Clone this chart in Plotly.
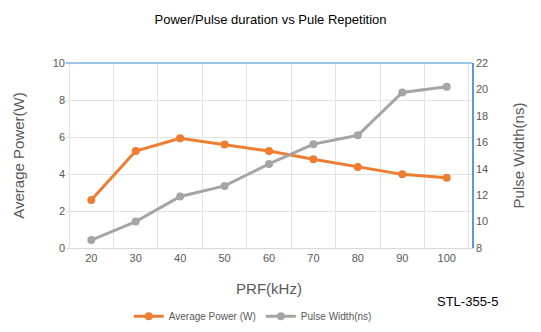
import plotly.graph_objects as go

prf = ["20", "30", "40", "50", "60", "70", "80", "90", "100"]
avg_power = [2.6, 5.24, 5.93, 5.6, 5.24, 4.8, 4.38, 3.98, 3.8]
pulse_width = [8.6, 10.0, 11.9, 12.7, 14.36, 15.86, 16.53, 19.77, 20.2]

orange = "#ED7D31"
grey = "#A5A5A5"
txt = "#595959"

fig = go.Figure()
fig.add_trace(go.Scatter(x=prf, y=avg_power, name="Average Power (W)", mode="lines+markers",
                         line=dict(color=orange, width=3), marker=dict(size=8, color=orange)))
fig.add_trace(go.Scatter(x=prf, y=pulse_width, name="Pulse Width(ns)", mode="lines+markers",
                         line=dict(color=grey, width=3), marker=dict(size=8, color=grey), yaxis="y2"))

fig.update_layout(
    width=541, height=332,
    margin=dict(l=66, r=69, t=63, b=84, autoexpand=False),
    paper_bgcolor="white", plot_bgcolor="white",
    font=dict(family="Liberation Sans, Arial", color=txt),
    title=dict(text="Power/Pulse duration vs Pule Repetition", x=0.5, xanchor="center",
               y=0.94, yanchor="middle", font=dict(size=13, color="black")),
    xaxis=dict(type="category", tickson="boundaries", showgrid=True, gridcolor="#E3E3E3",
               gridwidth=1, showline=True, linecolor="#D9D9D9", ticks="outside", ticklen=6,
               tickcolor="rgba(0,0,0,0)", tickfont=dict(size=11, color=txt), automargin=False,
               title=dict(text="PRF(kHz)", font=dict(size=15, color=txt), standoff=20)),
    yaxis=dict(range=[0, 10], dtick=2, showgrid=True, gridcolor="#E3E3E3", zeroline=False,
               showline=False, tickfont=dict(size=11, color=txt), ticks="", automargin=False,
               title=dict(text="Average Power(W)", font=dict(size=15, color=txt), standoff=24)),
    yaxis2=dict(range=[8, 22], dtick=2, overlaying="y", side="right", showgrid=False, zeroline=False,
                showline=True, linecolor="#5B9BD5", linewidth=1.5, tickfont=dict(size=11, color=txt),
                ticks="", automargin=False,
                title=dict(text="Pulse Width(ns)", font=dict(size=15, color=txt), standoff=26)),
    legend=dict(orientation="h", x=0.46, xanchor="center", y=-0.29, yanchor="top",
                font=dict(size=10, color=txt), itemwidth=30),
    showlegend=True,
)
fig.add_shape(type="line", xref="paper", yref="paper", x0=0, x1=1, y0=1, y1=1,
              line=dict(color="#9DC3E6", width=2))
fig.add_annotation(text="STL-355-5", xref="paper", yref="paper", x=0.99, y=-0.29,
                   xanchor="center", yanchor="middle", showarrow=False,
                   font=dict(size=13, color="black"))
fig.write_html("out.html")
